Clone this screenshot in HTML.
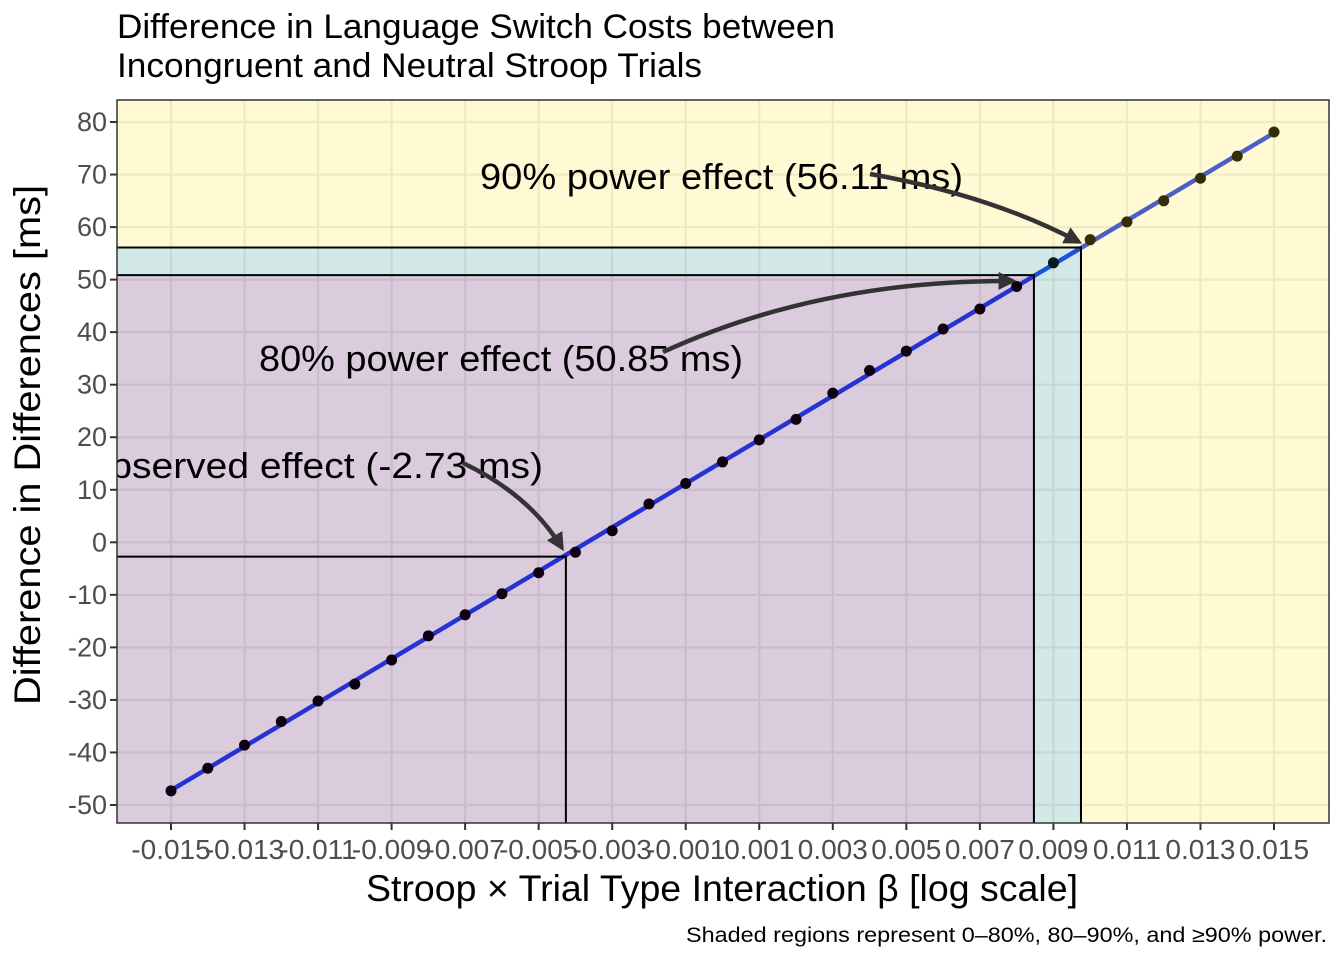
<!DOCTYPE html>
<html><head><meta charset="utf-8"><style>
body{margin:0;background:#fff;}
svg text{font-family:"Liberation Sans",Arial,sans-serif;}
</style></head><body>
<svg id="chart" width="1344" height="960" viewBox="0 0 1344 960" xmlns="http://www.w3.org/2000/svg">
<defs>
<clipPath id="panelClip"><rect x="117" y="100" width="1212" height="723"/></clipPath>
<marker id="ah" viewBox="0 0 10 10" refX="8" refY="5" markerWidth="4" markerHeight="4" orient="auto-start-reverse"><path d="M0,0 L10,5 L0,10 z" fill="#333"/></marker>
</defs>
<g id="plot"></g>
</svg>
<script>
const betas=[-0.015,-0.014,-0.013,-0.012,-0.011,-0.010,-0.009,-0.008,-0.007,-0.006,-0.005,-0.004,-0.003,-0.002,-0.001,0,0.001,0.002,0.003,0.004,0.005,0.006,0.007,0.008,0.009,0.010,0.011,0.012,0.013,0.014,0.015];
const diffs=[-47.3,-43.0,-38.6,-34.1,-30.2,-27.0,-22.4,-17.8,-13.8,-9.8,-5.8,-1.9,2.2,7.3,11.2,15.3,19.5,23.4,28.4,32.7,36.4,40.6,44.4,48.7,53.2,57.6,61.0,65.0,69.3,73.5,78.1];
const xTicks=[-0.015,-0.013,-0.011,-0.009,-0.007,-0.005,-0.003,-0.001,0.001,0.003,0.005,0.007,0.009,0.011,0.013,0.015];
const xTickLabels=["-0.015","-0.013","-0.011","-0.009","-0.007","-0.005","-0.003","-0.001","0.001","0.003","0.005","0.007","0.009","0.011","0.013","0.015"];
const yTicks=[-50,-40,-30,-20,-10,0,10,20,30,40,50,60,70,80];
const refBetas=[-0.00426,0.00847,0.00975];
const refEffects=[-2.73,50.85,56.11];
const refLabels=["Observed effect (-2.73 ms)","80% power effect (50.85 ms)","90% power effect (56.11 ms)"];

const L=117,R=1329,T=100,B=823;
const X=v=>171+(v+0.015)/0.030*(1274-171);
const Y=v=>122+(80-v)/130*(805-122);
const NS="http://www.w3.org/2000/svg";
const g=document.getElementById('plot');
function mk(tag,attrs,parent){const e=document.createElementNS(NS,tag);for(const k in attrs)e.setAttribute(k,attrs[k]);(parent||g).appendChild(e);return e;}

let bg=mk('rect',{x:L,y:T,width:R-L,height:B-T,fill:'#fff'});


xTicks.forEach(t=>{const l=mk('line',{x1:X(t),x2:X(t),y1:T,y2:B,stroke:'#ebebeb','stroke-width':2.2});

});
yTicks.forEach(t=>{const l=mk('line',{x1:L,x2:R,y1:Y(t),y2:Y(t),stroke:'#ebebeb','stroke-width':2.2});

});
const n=betas.length;let sx=0,sy=0,sxx=0,sxy=0;
for(let i=0;i<n;i++){sx+=betas[i];sy+=diffs[i];sxx+=betas[i]*betas[i];sxy+=betas[i]*diffs[i];}
const slope=(n*sxy-sx*sy)/(n*sxx-sx*sx),icpt=(sy-slope*sx)/n;
const fit=mk('line',{x1:X(betas[0]),y1:Y(icpt+slope*betas[0]),x2:X(betas[n-1]),y2:Y(icpt+slope*betas[n-1]),stroke:'#1f3ff0','stroke-width':4.5});


betas.forEach((b,i)=>{const c=mk('circle',{cx:X(b),cy:Y(diffs[i]),r:5.5,fill:'#000'});

});
const x80=X(refBetas[1]),x90=X(refBetas[2]),y80=Y(refEffects[1]),y90=Y(refEffects[2]);
const pur=mk('rect',{x:L,y:y80,width:x80-L,height:B-y80,fill:'rgb(68,1,84)','fill-opacity':0.2});


const teal=mk('path',{d:`M${L},${y90}H${x90}V${B}H${x80}V${y80}H${L}Z`,fill:'rgb(33,145,140)','fill-opacity':0.2});


const yel=mk('path',{d:`M${L},${T}H${R}V${B}H${x90}V${y90}H${L}Z`,fill:'rgb(253,231,37)','fill-opacity':0.2});


refBetas.forEach((b,i)=>{const p=mk('path',{d:`M${L},${Y(refEffects[i])}H${X(b)}V${B}`,fill:'none',stroke:'#000','stroke-width':2});

});
const ann=mk('g',{'clip-path':'url(#panelClip)'});
const labelPos=[[80,478,463],[259,371,484],[480,189,483]];
const arrows=["M463,463 Q530,495 562,548","M663,352 Q820,280 1013,281","M870,174 Q990,195 1079,242"];
refLabels.forEach((s,i)=>{const t=mk('text',{x:labelPos[i][0],y:labelPos[i][1],'font-size':36,textLength:labelPos[i][2],lengthAdjust:'spacingAndGlyphs',fill:'#000'},ann);t.textContent=s;

});
arrows.forEach(d=>{const a=mk('path',{d,fill:'none',stroke:'#333','stroke-width':4.5,'marker-end':'url(#ah)'},ann);

});
const br=mk('rect',{x:L,y:T,width:R-L,height:B-T,fill:'none',stroke:'#333','stroke-width':1.5});


xTicks.forEach((t,i)=>{mk('line',{x1:X(t),x2:X(t),y1:B,y2:B+7,stroke:'#333','stroke-width':2});
const tx=mk('text',{x:X(t),y:B+36,'text-anchor':'middle','font-size':28,fill:'#4d4d4d'});tx.textContent=xTickLabels[i];

});
yTicks.forEach(t=>{mk('line',{x1:L-7,x2:L,y1:Y(t),y2:Y(t),stroke:'#333','stroke-width':2});
const tx=mk('text',{x:L-10,y:Y(t)+9,'text-anchor':'end','font-size':27,fill:'#4d4d4d'});tx.textContent=t;

});
function txt(s,attrs,name){const t=mk('text',attrs);t.textContent=s;return t;}
txt("Difference in Language Switch Costs between",{x:117,y:38,'font-size':34,textLength:718,lengthAdjust:'spacingAndGlyphs',fill:'#000'},'chart-title-line1');
txt("Incongruent and Neutral Stroop Trials",{x:117,y:77,'font-size':34,textLength:585,lengthAdjust:'spacingAndGlyphs',fill:'#000'},'chart-title-line2');
txt("Stroop × Trial Type Interaction β [log scale]",{x:366,y:901,'font-size':37,textLength:712,lengthAdjust:'spacingAndGlyphs',fill:'#000'},'x-axis-title');
txt("Difference in Differences [ms]",{x:0,y:0,'text-anchor':'middle','font-size':37,textLength:520,lengthAdjust:'spacingAndGlyphs',fill:'#000',transform:'translate(40,445) rotate(-90)'},'y-axis-title');
txt("Shaded regions represent 0–80%, 80–90%, and ≥90% power.",{x:686,y:942,'font-size':21,textLength:641,lengthAdjust:'spacingAndGlyphs',fill:'#000'},'caption');
</script>
</body></html>
